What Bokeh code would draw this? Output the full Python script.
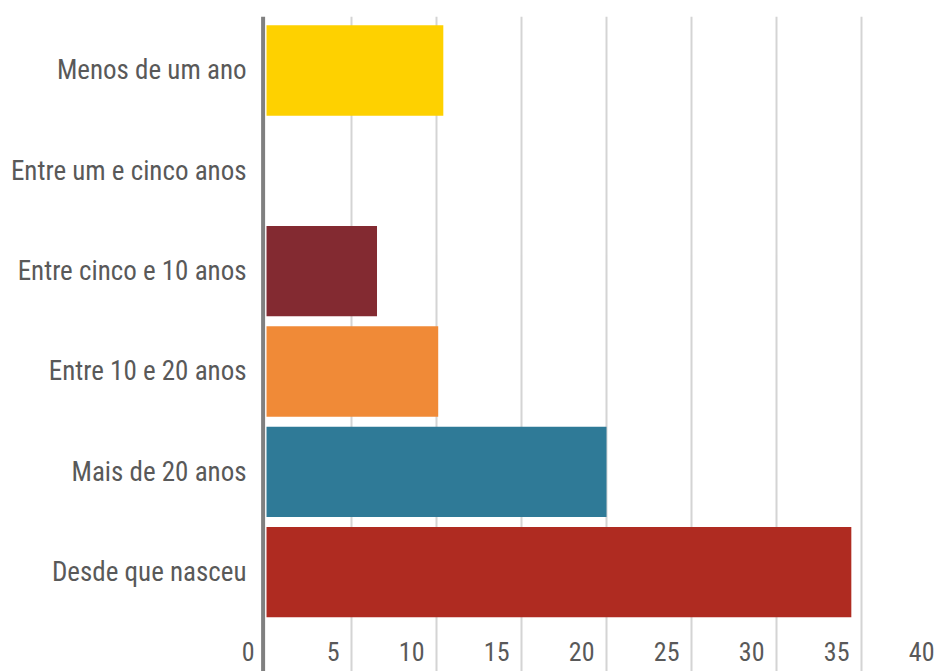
from bokeh.plotting import figure
from bokeh.models import ColumnDataSource, FixedTicker, Range1d, LabelSet, Span
from bokeh.core.properties import value
from bokeh.embed import file_html
from bokeh.resources import INLINE

categories = ["Menos de um ano", "Entre um e cinco anos", "Entre cinco e 10 anos",
              "Entre 10 e 20 anos", "Mais de 20 anos", "Desde que nasceu"]
values = [10.4, 0.0, 6.5, 10.1, 20.0, 34.4]
colors = ["#FED100", "#FFFFFF", "#832A31", "#F08A37", "#2F7A97", "#AF2B21"]
tick_values = [0, 5, 10, 15, 20, 25, 30, 35, 40]
tick_labels = ["0", "5", "10", "15", "20", "25", "30", "35", "40"]

FONT = "Roboto Condensed"
TXT = "#595959"
FS = "27px"

n = len(categories)
ypos = [n - 1 - i for i in range(n)]
src = ColumnDataSource(dict(y=ypos, v=values, c=colors, name=categories))

p = figure(width=936, height=671, output_backend="svg", toolbar_location=None,
           x_range=Range1d(-15.647, 39.41), y_range=Range1d(-0.99, 5.538),
           min_border_left=0, min_border_right=0, min_border_top=16, min_border_bottom=0)
p.outline_line_color = None
p.background_fill_color = "white"
p.border_fill_color = "white"
p.xaxis.visible = False
p.yaxis.visible = False
p.ygrid.grid_line_color = None
p.xgrid.ticker = FixedTicker(ticks=tick_values[1:])
p.xgrid.grid_line_color = "#d4d4d4"
p.xgrid.grid_line_width = 2

p.hbar(y="y", left=0, right="v", height=0.9, fill_color="c", line_color=None, source=src)

p.add_layout(Span(location=-0.2, dimension="height", line_color="#808080", line_width=4))

p.text(x=0, y="y", text="name", source=src, x_offset=-20, text_align="right",
       text_baseline="middle", text_font=value(FONT), text_font_size=FS, text_color=TXT)

lab_src = ColumnDataSource(dict(x=tick_values, y=[-0.79] * len(tick_values), t=tick_labels))
labels = LabelSet(x="x", y="y", text="t", source=lab_src, x_offset=-12,
                  text_align="right", text_baseline="middle",
                  text_font=value(FONT), text_font_size="26px", text_color=TXT)
p.add_layout(labels)

open("out.html", "w").write(file_html(p, INLINE))
